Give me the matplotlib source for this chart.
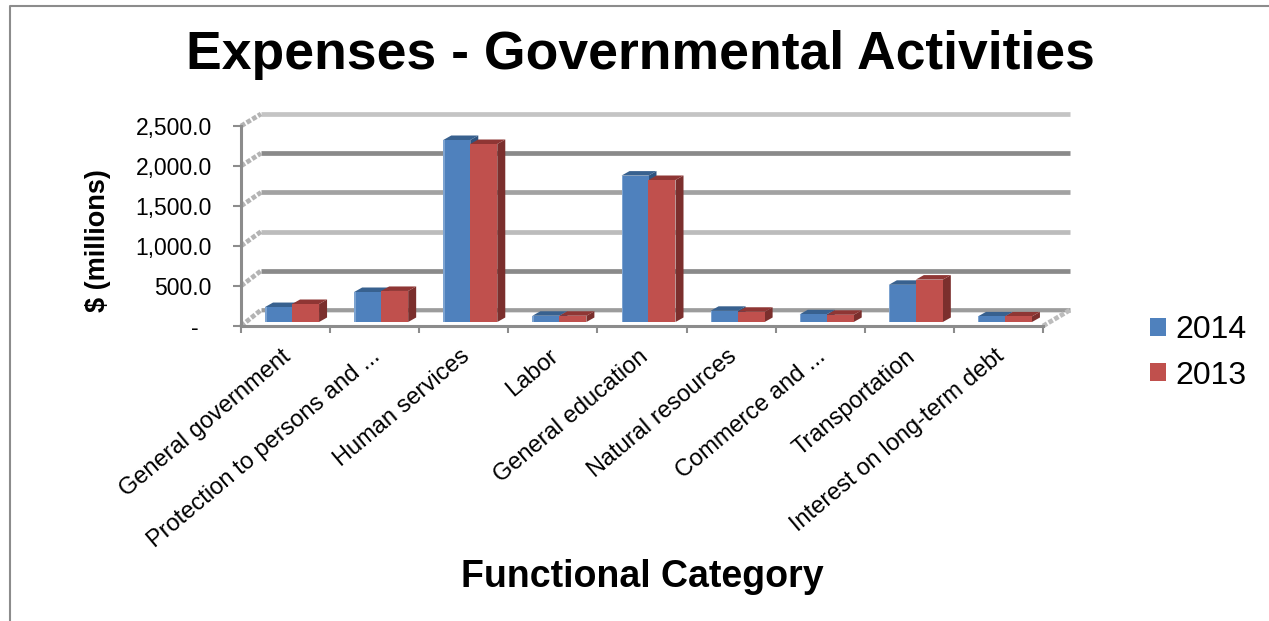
#!/usr/bin/env python3
"""Expenses - Governmental Activities, fake-3D clustered columns."""

import matplotlib
matplotlib.use("Agg")
import matplotlib.pyplot as plt
from matplotlib.patches import Polygon, Rectangle
import numpy as np

categories = ['General government', 'Protection to persons and ...', 'Human services',
              'Labor', 'General education', 'Natural resources',
              'Commerce and ...', 'Transportation', 'Interest on long-term debt']
values_2014 = [187, 375, 2275, 78, 1830, 140, 96, 465, 70]
values_2013 = [225, 388, 2225, 78, 1775, 128, 90, 530, 70]
yticks = [0, 500, 1000, 1500, 2000, 2500]
ytick_labels = ['-  ', '500.0', '1,000.0', '1,500.0', '2,000.0', '2,500.0']
grid_colors = ['#9c9c9c', '#8a8a8a', '#bcbcbc', '#a2a2a2', '#8a8a8a', '#c4c4c4']

W, H = 1269, 621
plt.rcParams['font.family'] = ['Liberation Sans', 'DejaVu Sans']

fig = plt.figure(figsize=(W / 100, H / 100), dpi=100)
# plot box in pixels: x 241-1043, y 126-326 from top
ax = fig.add_axes([241 / W, 1 - 326 / H, 802 / W, 200 / H])
ax.set_xlim(0, len(categories))
ax.set_ylim(0, 2500)
ax.patch.set_alpha(0)

# pixel -> data helpers for the depth offsets
px_x = len(categories) / 802
px_y = 2500 / 200

# outer frame, only left and top show
fig.add_artist(plt.Line2D([9.5 / W, 9.5 / W, 1], [0, 1 - 5.5 / H, 1 - 5.5 / H],
                          color='#8c8c8c', lw=1.5))

# back wall gridlines with the perspective stubs
back_dx = 20 * px_x
back_dy = 16 * px_y
back_scale = 0.98
right_end = 829 * px_x
# white floor between back wall and front
ax.add_patch(Polygon([(0, 0), (back_dx, back_dy - 30), (right_end, back_dy - 30),
                      (len(categories), 0)], closed=True, fc='white', ec='none',
                     clip_on=False, zorder=1.5))
for t, shade in zip(yticks, grid_colors):
    wall_y = t * back_scale + back_dy
    ax.plot([back_dx, right_end], [wall_y, wall_y], color=shade, lw=3.4,
            solid_capstyle='butt', clip_on=False, zorder=1)
    ax.plot([0, back_dx], [t, wall_y], color='#b4b4b4', lw=3.4, ls=(0, (1, 0.4)),
            clip_on=False, zorder=1.6)
# right floor edge
ax.plot([len(categories), right_end], [0, back_dy], color='#bcbcbc', lw=3.4, ls=(0, (1, 0.4)),
        clip_on=False, zorder=1.6)

# columns
bar_w = 27 * px_x
shift = 6.5 * px_x
base = 4 * px_y
dep_x = 8 * px_x
dep_y = 4.5 * px_y
x = np.arange(len(categories)) + 0.5 + shift


def column(left, val, face, side, top):
    ax.add_patch(Polygon([(left + bar_w, base), (left + bar_w + dep_x, base + dep_y),
                          (left + bar_w + dep_x, val + base + dep_y), (left + bar_w, val + base)],
                         closed=True, fc=side, ec='none', clip_on=False, zorder=3))
    ax.add_patch(Polygon([(left, val + base), (left + dep_x, val + base + dep_y),
                          (left + bar_w + dep_x, val + base + dep_y), (left + bar_w, val + base)],
                         closed=True, fc=top, ec='none', clip_on=False, zorder=3))
    ax.bar(left, val, bar_w, bottom=base, align='edge', color=face, clip_on=False, zorder=4)


for i in range(len(categories)):
    column(x[i] - bar_w, values_2014[i], '#4f81bd', '#2f5480', '#38618f')
    # light edge on the blue column
    ax.bar(x[i] - bar_w, values_2014[i], 1.5 * px_x, bottom=base, align='edge',
           color='#7da3d0', clip_on=False, zorder=4.5)
    column(x[i], values_2013[i], '#c0504d', '#7b2f2d', '#8f3634')

# axes
for s in ('top', 'right'):
    ax.spines[s].set_visible(False)
for s in ('left', 'bottom'):
    ax.spines[s].set_color('#8c8c8c')
    ax.spines[s].set_linewidth(2.2)
ax.set_yticks(yticks)
ax.set_yticklabels(ytick_labels, fontsize=16.5)
ax.set_xticks(np.arange(len(categories) + 1))
ax.set_xticklabels([''] * (len(categories) + 1))
ax.tick_params(axis='y', color='#8c8c8c', width=1.5, length=6, pad=15)
ax.tick_params(axis='x', color='#8c8c8c', width=1.5, length=5)

for i, name in enumerate(categories):
    ax.annotate(name, (i + 0.5, 0), xytext=(-3, -14), textcoords='offset points',
                rotation=40, ha='right', va='top', rotation_mode='anchor', fontsize=17)

fig.text(640 / W, 1 - 55 / H, 'Expenses - Governmental Activities', ha='center', va='center',
         fontsize=38.5, fontweight='bold')
fig.text(98 / W, 1 - 241 / H, '$ (millions)', ha='center', va='center', rotation=90,
         fontsize=19.5, fontweight='bold')
fig.text(642 / W, 1 - 577 / H, 'Functional Category', ha='center', va='center',
         fontsize=27, fontweight='bold')

# legend
fig.legend([Rectangle((0, 0), 1, 1, fc='#4f81bd'), Rectangle((0, 0), 1, 1, fc='#c0504d')],
           ['2014', '2013'], loc='center left', bbox_to_anchor=(1150 / W, 1 - 353 / H),
           frameon=False, fontsize=23, handlelength=0.5, handleheight=0.5,
           handletextpad=0.3, labelspacing=0.47, borderpad=0, borderaxespad=0)

fig.savefig('out.png', dpi=100)
